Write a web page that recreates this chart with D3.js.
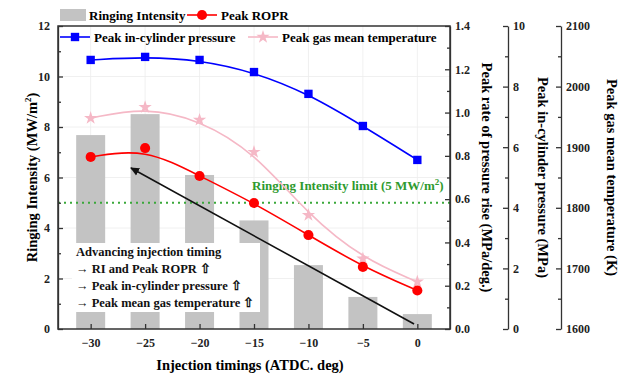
<!DOCTYPE html>
<html>
<head>
<meta charset="utf-8">
<script src="https://cdn.jsdelivr.net/npm/d3@7"></script>
<style>
  body { margin: 0; background: #fff; }
  svg { font-family: "Liberation Serif", "Times New Roman", serif; font-weight: bold; }
  .axis text { font-size: 12px; font-weight: bold; fill: #222; font-family: "Liberation Serif", serif; }
  .axis path, .axis line { stroke: #333; stroke-width: 1.3; }
</style>
</head>
<body>
<div id="chart"></div>
<script>
const timings = [-30, -25, -20, -15, -10, -5, 0];
const ringing = [7.68, 8.51, 6.1, 4.3, 2.53, 1.27, 0.59];
const ropr = [0.795, 0.836, 0.707, 0.582, 0.434, 0.287, 0.178];
const pressure = [8.88, 8.98, 8.88, 8.48, 7.76, 6.7, 5.58];
const gasTemp = [1948, 1966, 1945, 1892, 1788, 1716, 1678];
const riLimit = 5;

const riTicks = [0, 2, 4, 6, 8, 10, 12];
const roprTicks = [0, 0.2, 0.4, 0.6, 0.8, 1.0, 1.2, 1.4];
const pressTicks = [0, 2, 4, 6, 8, 10];
const tempTicks = [1600, 1700, 1800, 1900, 2000, 2100];

const notes = [
  'Advancing injection timing',
  '\u2192 RI and Peak ROPR \u21E7',
  '\u2192 Peak in-cylinder pressure \u21E7',
  '\u2192 Peak mean gas temperature \u21E7'
];

const W = 624, H = 378;
const plotL = 58, plotR = 450, plotT = 26, plotB = 329;

const svg = d3.select('#chart').append('svg')
  .attr('width', W)
  .attr('height', H);

const defs = svg.append('defs');
defs.append('marker')
  .attr('id', 'arrowhead')
  .attr('viewBox', '0 -5 10 10')
  .attr('refX', 9)
  .attr('refY', 0)
  .attr('orient', 'auto')
  .attr('markerWidth', 9)
  .attr('markerHeight', 9)
  .attr('markerUnits', 'userSpaceOnUse')
  .append('path')
  .attr('d', 'M0,-4.5L10,0L0,4.5Z')
  .attr('fill', '#111');

const x = d3.scaleLinear().domain([-33, 3]).range([plotL, plotR]);
const yRI = d3.scaleLinear().domain([0, 12]).range([plotB, plotT]);
const yROPR = d3.scaleLinear().domain([0, 1.4]).range([plotB, plotT]);
const yP = d3.scaleLinear().domain([0, 10]).range([plotB, plotT]);
const yT = d3.scaleLinear().domain([1600, 2100]).range([plotB, plotT]);

// faint grid
const grid = svg.append('g').attr('stroke', '#ececec').attr('stroke-width', 0.8);
grid.selectAll('.gx').data(timings).join('line')
  .attr('x1', d => x(d)).attr('x2', d => x(d))
  .attr('y1', plotT).attr('y2', plotB);
grid.selectAll('.gy').data(riTicks.slice(1, -1)).join('line')
  .attr('x1', plotL).attr('x2', plotR)
  .attr('y1', d => yRI(d)).attr('y2', d => yRI(d));

// bars
const barW = 29;
svg.append('g').selectAll('rect')
  .data(timings.map((t, i) => ({ t, v: ringing[i] })))
  .join('rect')
  .attr('x', d => x(d.t) - barW / 2)
  .attr('width', barW)
  .attr('y', d => yRI(d.v))
  .attr('height', d => yRI(0) - yRI(d.v))
  .attr('fill', '#c3c3c3');

// annotation box (covers bars)
const noteG = svg.append('g');
noteG.append('rect')
  .attr('x', 72).attr('y', 243)
  .attr('width', 188).attr('height', 69)
  .attr('fill', '#fff');
noteG.selectAll('text').data(notes).join('text')
  .attr('x', 76)
  .attr('y', (d, i) => 256 + i * 17)
  .style('font-size', '12.5px')
  .attr('fill', '#111')
  .text(d => d);

// limit line
svg.append('line')
  .attr('x1', plotL).attr('x2', plotR)
  .attr('y1', yRI(riLimit)).attr('y2', yRI(riLimit))
  .attr('stroke', '#3aa83a')
  .attr('stroke-width', 2)
  .attr('stroke-dasharray', '2,4');
const lim = svg.append('text')
  .attr('x', 252).attr('y', 190)
  .attr('fill', '#2e9a2e')
  .style('font-size', '13px');
lim.append('tspan').text('Ringing Intensity limit (5 MW/m');
lim.append('tspan').attr('dy', -5).style('font-size', '9px').text('2');
lim.append('tspan').attr('dy', 5).text(')');

// series lines
const series = [
  { vals: gasTemp, y: yT, color: '#f5b8c6', sym: d3.symbolStar, size: 55 },
  { vals: ropr, y: yROPR, color: '#ff0000', sym: d3.symbolCircle, size: 80 },
  { vals: pressure, y: yP, color: '#0000ff', sym: d3.symbolSquare, size: 70 }
];

series.forEach(s => {
  const pts = timings.map((t, i) => [x(t), s.y(s.vals[i])]);
  svg.append('path')
    .attr('d', d3.line().curve(d3.curveBasis)(pts))
    .attr('fill', 'none')
    .attr('stroke', s.color)
    .attr('stroke-width', 1.6);
  svg.append('g').selectAll('path')
    .data(pts)
    .join('path')
    .attr('transform', d => `translate(${d[0]},${d[1]})`)
    .attr('d', d3.symbol().type(s.sym).size(s.size))
    .attr('fill', s.color);
});

// arrow
svg.append('line')
  .attr('x1', x(-0.3)).attr('y1', 324)
  .attr('x2', x(-26.3)).attr('y2', 168)
  .attr('stroke', '#111')
  .attr('stroke-width', 1.6)
  .attr('marker-end', 'url(#arrowhead)');

// frame
svg.append('rect')
  .attr('x', plotL).attr('y', plotT)
  .attr('width', plotR - plotL).attr('height', plotB - plotT)
  .attr('fill', 'none')
  .attr('stroke', '#333')
  .attr('stroke-width', 1.5);

function addAxis(axisFn, scale, majors, minors, xPos, fmt, pad) {
  const g = svg.append('g').attr('class', 'axis').attr('transform', `translate(${xPos},0)`);
  g.call(axisFn(scale).tickValues(minors).tickSize(-3).tickSizeOuter(0).tickFormat(''));
  g.select('.domain').remove();
  const g2 = svg.append('g').attr('class', 'axis').attr('transform', `translate(${xPos},0)`);
  g2.call(axisFn(scale).tickValues(majors).tickSize(-5).tickSizeOuter(0).tickPadding(pad).tickFormat(fmt));
  return g2;
}

const mid = a => a.slice(0, -1).map((v, i) => (v + a[i + 1]) / 2);

// left axis: ticks point inward
addAxis(d3.axisLeft, yRI, riTicks, mid(riTicks), plotL, d3.format('d'), 8);
// right axes: ticks point left
addAxis(d3.axisRight, yROPR, roprTicks, mid(roprTicks), plotR, d3.format('.1f'), 5);
addAxis(d3.axisRight, yP, pressTicks, mid(pressTicks), 508, d3.format('d'), 5);
addAxis(d3.axisRight, yT, tempTicks, mid(tempTicks), 561, d3.format('d'), 5);

// bottom axis
const xg = svg.append('g').attr('class', 'axis').attr('transform', `translate(0,${plotB})`);
xg.call(d3.axisBottom(x).tickValues(timings).tickSize(-5).tickSizeOuter(0).tickPadding(9).tickFormat(d3.format('d')));
xg.select('.domain').remove();

// axis titles
svg.append('text')
  .attr('x', (plotL + plotR) / 2 - 4).attr('y', 370)
  .attr('text-anchor', 'middle')
  .style('font-size', '14.5px')
  .text('Injection timings (ATDC. deg)');

const lt = svg.append('text')
  .attr('transform', `translate(37,${(plotT + plotB) / 2}) rotate(-90)`)
  .attr('text-anchor', 'middle')
  .style('font-size', '14.5px');
lt.append('tspan').text('Ringing Intensity (MW/m');
lt.append('tspan').attr('dy', -6).style('font-size', '9px').text('2');
lt.append('tspan').attr('dy', 6).text(')');

[
  { x: 482, t: 'Peak rate of pressure rise (MPa/deg.)' },
  { x: 538, t: 'Peak in-cylinder pressure (MPa)' },
  { x: 607, t: 'Peak gas mean temperature (K)' }
].forEach(d => {
  svg.append('text')
    .attr('transform', `translate(${d.x},${(plotT + plotB) / 2}) rotate(90)`)
    .attr('text-anchor', 'middle')
    .style('font-size', '14.5px')
    .text(d.t);
});

// legend
const leg = svg.append('g').style('font-size', '13px');
leg.append('rect').attr('x', 60).attr('y', 9).attr('width', 26).attr('height', 12).attr('fill', '#c3c3c3');
leg.append('text').attr('x', 89).attr('y', 19.5).text('Ringing Intensity');

const legItems = [
  { x1: 187, y: 15, s: series[1], label: 'Peak ROPR' },
  { x1: 60, y: 37, s: series[2], label: 'Peak in-cylinder pressure' },
  { x1: 248, y: 37, s: series[0], label: 'Peak gas mean temperature' }
];
legItems.forEach(d => {
  leg.append('line')
    .attr('x1', d.x1).attr('x2', d.x1 + 30)
    .attr('y1', d.y).attr('y2', d.y)
    .attr('stroke', d.s.color).attr('stroke-width', 1.6);
  leg.append('path')
    .attr('transform', `translate(${d.x1 + 15},${d.y})`)
    .attr('d', d3.symbol().type(d.s.sym).size(d.s.size))
    .attr('fill', d.s.color);
  leg.append('text').attr('x', d.x1 + 34).attr('y', d.y + 4.5).text(d.label);
});
</script>
</body>
</html>
